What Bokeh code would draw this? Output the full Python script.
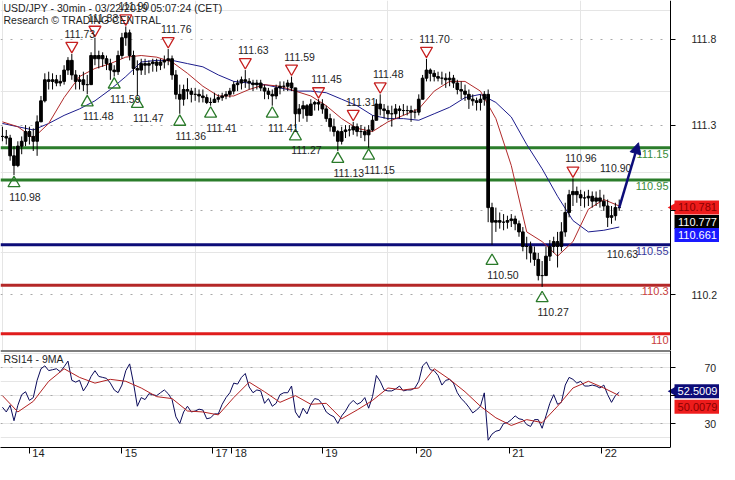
import numpy as np
from bokeh.plotting import figure
from bokeh.layouts import column
from bokeh.models import Range1d, FixedTicker, Label, Arrow, NormalHead, LinearAxis, Grid
from bokeh.embed import file_html
from bokeh.resources import INLINE
from bokeh.core.properties import value

# ---------------- data ----------------
title_line1 = "USD/JPY - 30min - 03/22/2019 05:07:24 (CET)"
title_line2 = "Research \u00a9 TRADING CENTRAL"
rsi_title = "RSI14 - 9MA"

# hourly bar index of each day start, and the day labels
day_ticks = [7, 31, 54.5, 59.5, 83, 107.5, 131.5, 155.5]
day_labels = ["14", "15", "17", "18", "19", "20", "21", "22"]

price_ticks = [110.24, 110.76, 111.29, 111.82]
price_tick_labels = ["110.2", "", "111.3", "111.8"]
rsi_ticks = [30, 50, 70]
rsi_tick_labels = ["30", "", "70"]

highs = [
    111.28, 111.26, 111.23, 111.16, 111.19, 111.22, 111.29, 111.28, 111.27, 111.35,
    111.47, 111.61, 111.62, 111.61, 111.60, 111.60, 111.66, 111.71, 111.73, 111.63,
    111.60, 111.62, 111.60, 111.74, 111.83, 111.75, 111.74, 111.72, 111.70, 111.66,
    111.75, 111.86, 111.90, 111.88, 111.75, 111.69, 111.70, 111.70, 111.69, 111.70,
    111.70, 111.70, 111.72, 111.76, 111.72, 111.63, 111.54, 111.54, 111.58, 111.52,
    111.52, 111.51, 111.51, 111.48, 111.46, 111.49, 111.48, 111.49, 111.50, 111.52,
    111.56, 111.57, 111.59, 111.63, 111.58, 111.57, 111.57, 111.57, 111.54, 111.52,
    111.51, 111.54, 111.56, 111.56, 111.57, 111.59, 111.52, 111.42, 111.44, 111.42,
    111.45, 111.44, 111.45, 111.45, 111.41, 111.36, 111.33, 111.26, 111.28, 111.29,
    111.29, 111.31, 111.30, 111.29, 111.28, 111.29, 111.35, 111.45, 111.48, 111.42,
    111.41, 111.41, 111.42, 111.41, 111.42, 111.41, 111.41, 111.39, 111.48, 111.60,
    111.70, 111.64, 111.63, 111.62, 111.62, 111.61, 111.62, 111.60, 111.57, 111.56,
    111.54, 111.51, 111.48, 111.46, 111.48, 111.50, 111.51, 110.81, 110.78, 110.75,
    110.74, 110.73, 110.74, 110.73, 110.70, 110.66, 110.60, 110.57, 110.54, 110.50,
    110.45, 110.54, 110.58, 110.60, 110.63, 110.69, 110.81, 110.89, 110.96, 110.91,
    110.89, 110.88, 110.89, 110.88, 110.88, 110.89, 110.86, 110.83, 110.79, 110.81,
    110.83,
]
lows = [
    111.19, 111.17, 111.07, 110.98, 111.03, 111.11, 111.16, 111.17, 111.13, 111.10,
    111.31, 111.43, 111.51, 111.51, 111.53, 111.53, 111.54, 111.60, 111.57, 111.51,
    111.51, 111.50, 111.48, 111.54, 111.66, 111.64, 111.65, 111.63, 111.57, 111.59,
    111.60, 111.70, 111.78, 111.69, 111.60, 111.47, 111.60, 111.60, 111.61, 111.62,
    111.62, 111.63, 111.64, 111.66, 111.57, 111.45, 111.36, 111.41, 111.45, 111.43,
    111.44, 111.43, 111.43, 111.42, 111.41, 111.43, 111.43, 111.44, 111.45, 111.46,
    111.48, 111.50, 111.51, 111.52, 111.51, 111.50, 111.51, 111.50, 111.45, 111.45,
    111.41, 111.45, 111.48, 111.50, 111.50, 111.50, 111.27, 111.31, 111.33, 111.31,
    111.35, 111.38, 111.38, 111.36, 111.31, 111.25, 111.22, 111.13, 111.17, 111.21,
    111.22, 111.23, 111.22, 111.21, 111.19, 111.15, 111.25, 111.32, 111.35, 111.33,
    111.32, 111.28, 111.33, 111.33, 111.35, 111.35, 111.31, 111.33, 111.35, 111.45,
    111.56, 111.56, 111.56, 111.56, 111.54, 111.52, 111.53, 111.52, 111.48, 111.45,
    111.44, 111.39, 111.41, 111.38, 111.38, 111.41, 110.69, 110.55, 110.63, 110.65,
    110.64, 110.65, 110.66, 110.64, 110.60, 110.51, 110.46, 110.44, 110.42, 110.33,
    110.29, 110.36, 110.45, 110.50, 110.41, 110.51, 110.60, 110.72, 110.79, 110.81,
    110.79, 110.78, 110.79, 110.78, 110.79, 110.78, 110.76, 110.66, 110.68, 110.70,
    110.76,
]
closes = [
    111.22, 111.21, 111.10, 111.04, 111.16, 111.19, 111.25, 111.22, 111.19, 111.31,
    111.44, 111.57, 111.56, 111.57, 111.55, 111.56, 111.63, 111.69, 111.60, 111.56,
    111.57, 111.54, 111.54, 111.72, 111.70, 111.72, 111.70, 111.67, 111.63, 111.62,
    111.72, 111.83, 111.86, 111.72, 111.64, 111.63, 111.67, 111.66, 111.67, 111.68,
    111.66, 111.68, 111.69, 111.70, 111.60, 111.48, 111.45, 111.51, 111.50, 111.48,
    111.48, 111.47, 111.46, 111.43, 111.43, 111.45, 111.46, 111.47, 111.48, 111.50,
    111.54, 111.55, 111.57, 111.56, 111.55, 111.54, 111.55, 111.52, 111.50, 111.48,
    111.47, 111.52, 111.53, 111.53, 111.55, 111.52, 111.36, 111.39, 111.41, 111.35,
    111.42, 111.43, 111.42, 111.39, 111.33, 111.28, 111.25, 111.19, 111.25, 111.26,
    111.26, 111.28, 111.25, 111.25, 111.23, 111.26, 111.32, 111.42, 111.39, 111.38,
    111.36, 111.36, 111.39, 111.38, 111.38, 111.38, 111.37, 111.37, 111.45, 111.58,
    111.63, 111.61, 111.59, 111.58, 111.58, 111.57, 111.58, 111.55, 111.51, 111.50,
    111.48, 111.45, 111.44, 111.43, 111.45, 111.48, 110.78, 110.69, 110.70, 110.69,
    110.69, 110.70, 110.71, 110.68, 110.63, 110.54, 110.54, 110.50, 110.46, 110.36,
    110.36, 110.48, 110.54, 110.57, 110.54, 110.63, 110.75, 110.86, 110.88, 110.86,
    110.84, 110.84, 110.85, 110.82, 110.84, 110.82, 110.79, 110.72, 110.73, 110.78,
    110.78,
]
# moving averages, one value every 4 bars
ma_fast = [
    111.31, 111.28, 111.21, 111.30, 111.46, 111.59, 111.64, 111.67, 111.71, 111.72,
    111.71, 111.68, 111.61, 111.53, 111.47, 111.47, 111.51, 111.54, 111.53, 111.50,
    111.47, 111.41, 111.33, 111.27, 111.25, 111.31, 111.35, 111.39, 111.50, 111.56,
    111.56, 111.50, 111.33, 111.04, 110.63, 110.57, 110.48, 110.57, 110.77, 110.83,
    110.79,
]
ma_slow = [
    111.30, 111.28, 111.26, 111.30, 111.35, 111.39, 111.44, 111.51, 111.59, 111.68,
    111.69, 111.69, 111.67, 111.65, 111.60, 111.56, 111.55, 111.54, 111.52, 111.50,
    111.50, 111.49, 111.45, 111.41, 111.35, 111.33, 111.33, 111.32, 111.36, 111.40,
    111.46, 111.48, 111.43, 111.34, 111.17, 111.02, 110.85, 110.70, 110.63, 110.64,
    110.66,
]
rsi = [
    41.7, 38.3, 43.1, 32.0, 43.1, 50.7, 52.8, 46.6, 48.6, 61.0,
    69.3, 71.4, 68.0, 68.6, 69.3, 67.2, 70.7, 74.8, 61.0, 59.7,
    61.0, 53.4, 57.6, 63.8, 67.9, 63.8, 63.1, 62.4, 59.0, 54.1,
    52.1, 57.6, 67.9, 72.8, 59.0, 42.4, 48.6, 47.2, 51.4, 50.7,
    50.0, 52.1, 54.1, 51.4, 47.2, 34.8, 30.0, 38.3, 42.4, 38.3,
    39.0, 40.3, 39.7, 33.4, 34.1, 36.9, 36.9, 43.8, 48.6, 52.1,
    59.0, 58.3, 63.1, 65.9, 56.2, 52.1, 54.1, 53.4, 44.5, 47.9,
    42.4, 44.5, 50.7, 52.1, 52.1, 56.9, 38.3, 34.1, 41.0, 36.9,
    43.8, 47.9, 47.2, 43.8, 38.3, 36.2, 34.8, 30.0, 35.5, 39.0,
    43.8, 46.6, 43.8, 45.2, 48.6, 41.0, 49.3, 64.5, 60.3, 54.1,
    53.4, 53.4, 54.8, 56.9, 53.4, 54.1, 54.1, 55.5, 60.3, 71.4,
    74.1, 68.6, 67.9, 64.5, 57.6, 61.0, 61.7, 59.0, 52.1, 47.9,
    45.2, 41.7, 37.6, 39.7, 42.4, 52.0, 18.0, 22.4, 24.5, 25.2,
    30.0, 30.7, 32.8, 35.5, 33.4, 32.8, 29.3, 27.9, 32.8, 32.8,
    26.6, 35.5, 44.5, 50.7, 43.8, 45.2, 57.6, 63.1, 61.7, 59.0,
    60.3, 56.9, 56.9, 57.6, 56.9, 55.5, 57.6, 50.7, 45.2, 50.0,
    52.5,
]
rsi_ma = [
    50.0, 38.3, 45.9, 60.3, 69.3, 63.1, 59.0, 61.7, 60.3, 55.5,
    49.3, 47.9, 39.0, 38.3, 36.2, 48.6, 59.7, 52.8, 45.2, 50.0,
    43.8, 44.5, 33.4, 39.7, 46.6, 55.5, 54.1, 55.5, 69.3, 61.7,
    52.8, 42.4, 34.1, 28.6, 32.8, 30.7, 42.4, 55.5, 60.3, 55.5,
    50.0,
]

levels = [111.15, 110.95, 110.55, 110.3, 110.0]
level_labels = ["111.15", "110.95", "110.55", "110.3", "110"]

res_bars = [18, 24, 32, 43, 63, 75, 82, 91, 98, 110, 148]
res_vals = [111.73, 111.83, 111.90, 111.76, 111.63, 111.59, 111.45, 111.31, 111.48, 111.70, 110.96]
sup_bars = [3, 22, 29, 35, 46, 54, 70, 76, 87, 95, 127, 140]
sup_vals = [110.98, 111.48, 111.59, 111.47, 111.36, 111.41, 111.41, 111.27, 111.13, 111.15, 110.50, 110.27]
extra_res_bar, extra_res_val = 157, 110.90
extra_sup_bar, extra_sup_val = 158, 110.63

target = 111.15
last_price = 110.777
fast_tag = 110.781
slow_tag = 110.661
rsi_tag = 52.5009
rsi_ma_tag = 50.0079

# ---------------- styling ----------------
W = 719                 # 735 window - 2 x 8px page margin
FRAME_W = 670           # width of the plotting area left of the price axis
MAIN_H = 350
RSI_FRAME_H = 97
X_LO, X_HI = -0.5, 173.3
P_LO, P_HI = 109.897, 112.06
R_LO, R_HI = 12.8, 82.4
FONT = "Liberation Sans"
TXT = "#1e1e1e"
GREEN = "#2b7d2b"
NAVY = "#0c0c78"
DRED = "#b42828"
BRED = "#e01c1c"
MA_RED = "#b02a2a"
MA_BLUE = "#1c1c8c"
RES_C = "#c62020"
SUP_C = "#2a7a2a"
level_colors = [GREEN, GREEN, NAVY, DRED, BRED]
level_text_colors = ["#3a8c3a", "#3a8c3a", "#3a3aa0", "#c84040", "#c84040"]

ppx = FRAME_W / (X_HI - X_LO)          # pixels per bar
X_END = X_LO + W / ppx
ppu = MAIN_H / (P_HI - P_LO)           # pixels per price unit
rppu = RSI_FRAME_H / (R_HI - R_LO)     # pixels per RSI unit
LABEL_SHIFT = 9 / ppx                  # date labels sit just right of their tick

bars = np.arange(len(closes))
opens = np.r_[closes[0], closes[:-1]]
closes_a = np.array(closes)
ma_bars = np.arange(0, len(closes), 4)

xr = Range1d(X_LO, X_END)


def price_axis(ticks, labels, standoff):
    ax = LinearAxis(fixed_location=X_HI)
    ax.ticker = FixedTicker(ticks=ticks)
    ax.major_label_overrides = {t: l for t, l in zip(ticks, labels)}
    ax.major_tick_out = 5
    ax.major_tick_in = 0
    ax.minor_tick_line_color = None
    ax.axis_line_color = "black"
    ax.major_tick_line_color = "black"
    ax.major_label_text_font = FONT
    ax.major_label_text_font_size = "10.5px"
    ax.major_label_text_color = TXT
    ax.major_label_standoff = standoff
    return ax


def dotted_grid(ticks):
    return Grid(dimension=1, ticker=FixedTicker(ticks=ticks), grid_line_color="#a8a8a8",
                grid_line_dash="2 8")


def tags(fig, vals, offs_px, bgs, fgs, notch, scale, fmt):
    ys = [v - o / scale for v, o in zip(vals, offs_px)]
    cx = X_HI + 27 / ppx
    n = len(vals)
    for y, bg, nt in zip(ys, bgs, notch):
        if nt:
            fig.scatter([X_HI + 3 / ppx], [y], marker="triangle", angle=np.pi / 2, size=10,
                        fill_color=bg, line_color=None)
    fig.rect(x=[cx] * n, y=ys, width=46, height=14, width_units="screen", height_units="screen",
             fill_color=bgs, line_color=None)
    fig.text(x=[cx] * n, y=ys, text=[fmt % v for v in vals], text_align="center",
             text_baseline="middle", text_font=value(FONT), text_font_size="11px",
             text_color=fgs)


# ---------------- main price panel ----------------
p = figure(width=W, height=MAIN_H, x_range=xr, y_range=Range1d(P_LO, P_HI),
           x_axis_location=None, y_axis_location=None,
           toolbar_location=None, output_backend="svg", min_border=0)
p.outline_line_color = None
p.background_fill_color = "white"
p.border_fill_color = "white"
p.add_layout(dotted_grid(price_ticks))

p.segment(x0=[X_LO] * len(levels), x1=[X_HI] * len(levels), y0=levels, y1=levels,
          line_color=level_colors, line_width=3)

p.line(ma_bars, ma_slow, line_color=MA_BLUE, line_width=1)
p.line(ma_bars, ma_fast, line_color=MA_RED, line_width=1)

p.segment(x0=bars, y0=lows, x1=bars, y1=highs, line_color="black", line_width=1)
p.vbar(x=bars, width=0.7, top=np.maximum(opens, closes_a), bottom=np.minimum(opens, closes_a),
       fill_color="black", line_color="black", line_width=1)

# level labels at right end
p.text(x=[X_HI] * len(levels), y=levels, text=level_labels, text_align="right",
       text_baseline="top", x_offset=-2, y_offset=2, text_font=value(FONT),
       text_font_size="11px", text_color=level_text_colors)

# resistance markers
res_arr = np.array(res_vals)
p.scatter(res_bars, res_arr + 8 / ppu, marker="inverted_triangle", size=12,
          fill_color=None, line_color=RES_C, line_width=1.3)
p.text(x=res_bars + [extra_res_bar], y=res_vals + [extra_res_val],
       text=["%.2f" % v for v in res_vals + [extra_res_val]],
       text_align="center", text_baseline="middle", x_offset=8, y_offset=-20,
       text_font=value(FONT), text_font_size="10.5px", text_color=TXT)
# support markers
sup_arr = np.array(sup_vals)
p.scatter(sup_bars, sup_arr - 8 / ppu, marker="triangle", size=12,
          fill_color=None, line_color=SUP_C, line_width=1.3)
p.text(x=sup_bars + [extra_sup_bar], y=sup_vals + [extra_sup_val],
       text=["%.2f" % v for v in sup_vals + [extra_sup_val]],
       text_align="center", text_baseline="middle", x_offset=11, y_offset=22,
       text_font=value(FONT), text_font_size="10.5px", text_color=TXT)

# projection arrow
p.add_layout(Arrow(end=NormalHead(size=11, fill_color=NAVY, line_color=NAVY),
                   x_start=bars[-1], y_start=closes[-1],
                   x_end=bars[-1] + 5, y_end=target + 5 / ppu,
                   line_color=NAVY, line_width=2.5))

# title
p.add_layout(Label(x=X_LO, y=P_HI, x_offset=3, y_offset=-7, text=title_line1,
                   text_baseline="middle", text_font=FONT, text_font_size="10.5px", text_color=TXT))
p.add_layout(Label(x=X_LO, y=P_HI, x_offset=3, y_offset=-19, text=title_line2,
                   text_baseline="middle", text_font=FONT, text_font_size="10.5px", text_color=TXT))

# blank the axis strip, then the axis and the price tags
p.quad(left=[X_HI], right=[X_END], bottom=[P_LO], top=[P_HI], fill_color="white", line_color=None)
p.add_layout(price_axis(price_ticks, price_tick_labels, 16), "right")
tags(p, [fast_tag, last_price, slow_tag], [0, 14, 8],
     ["#ee1c1c", "#000000", "#1a1aff"], ["#8a0000", "#ffffff", "#ffffff"],
     [True, False, False], ppu, "%.3f")

# ---------------- RSI panel ----------------
r = figure(width=W, frame_height=RSI_FRAME_H, x_range=xr, y_range=Range1d(R_LO, R_HI),
           x_axis_location="below", y_axis_location=None,
           toolbar_location=None, output_backend="svg", min_border=0)
r.outline_line_color = None
r.background_fill_color = "white"
r.border_fill_color = "white"
r.xgrid.visible = False
r.add_layout(dotted_grid(rsi_ticks))

# date axis: tick marks at day starts (minor ticks), labels just right of them (major ticks)
label_pos = [t + LABEL_SHIFT for t in day_ticks]
xa = r.xaxis[0]
xa.bounds = (X_LO, X_HI)
xa.ticker = FixedTicker(ticks=label_pos, minor_ticks=day_ticks)
xa.major_label_overrides = {t: l for t, l in zip(label_pos, day_labels)}
xa.major_tick_out = 0
xa.major_tick_in = 0
xa.major_tick_line_color = None
xa.minor_tick_out = 6
xa.minor_tick_in = 0
xa.minor_tick_line_color = "black"
xa.axis_line_color = "black"
xa.major_label_standoff = -5
xa.major_label_text_font = FONT
xa.major_label_text_font_size = "11px"
xa.major_label_text_color = TXT

r.line(bars, rsi, line_color="#0a0a5a", line_width=1)
r.line(ma_bars, rsi_ma, line_color="#b22222", line_width=1)

# top border of the RSI pane
r.segment(x0=[X_LO], x1=[X_HI], y0=[R_HI], y1=[R_HI], line_color="black", line_width=2)

r.add_layout(Label(x=X_LO, y=R_HI, x_offset=3, y_offset=-8, text=rsi_title,
                   text_baseline="middle", text_font=FONT, text_font_size="10.5px", text_color=TXT))

r.quad(left=[X_HI], right=[X_END], bottom=[R_LO], top=[R_HI], fill_color="white", line_color=None)
r.add_layout(price_axis(rsi_ticks, rsi_tick_labels, 29), "right")
tags(r, [rsi_tag, rsi_ma_tag], [-1, 11], [NAVY, "#ee1c1c"], ["#ffffff", "#8a0000"],
     [True, False], rppu, "%.4f")

layout = column(p, r)
with open("out.html", "w", encoding="utf-8") as f:
    f.write(file_html(layout, INLINE, title="USD/JPY"))
